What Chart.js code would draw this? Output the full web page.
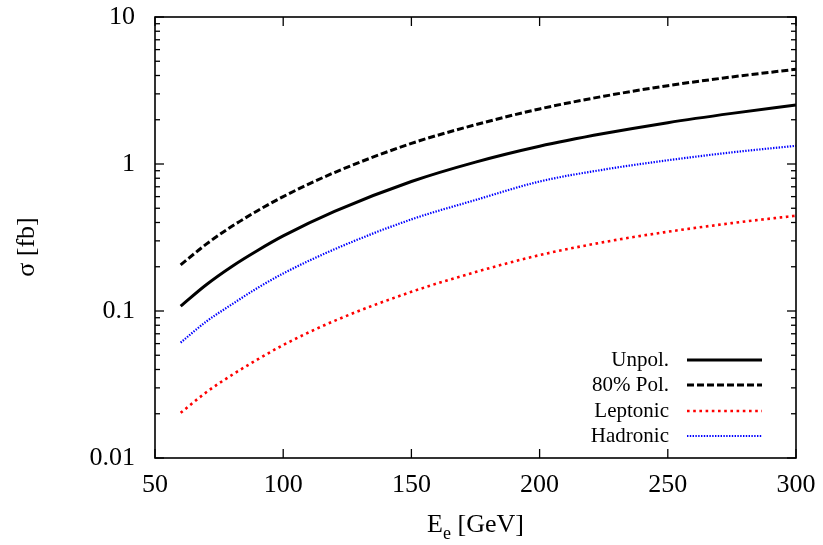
<!DOCTYPE html>
<html>
<head>
<meta charset="utf-8">
<script src="https://cdn.jsdelivr.net/npm/chart.js@4/dist/chart.umd.min.js"></script>
<style>
  html, body { margin: 0; padding: 0; background: #fff; }
</style>
</head>
<body>
<canvas id="xsec" width="823" height="545"></canvas>
<script>
// ─── Data ────────────────────────────────────────────────────────────────────
const energies  = [60, 70, 80, 90, 100, 120, 150, 175, 200, 225, 250, 275, 300];
const unpol     = [0.108, 0.151, 0.201, 0.258, 0.324, 0.476, 0.76, 1.03, 1.32, 1.61, 1.91, 2.21, 2.52];
const pol80     = [0.206, 0.285, 0.377, 0.481, 0.600, 0.875, 1.38, 1.85, 2.37, 2.89, 3.41, 3.91, 4.41];
const leptonic  = [0.0203, 0.028, 0.0367, 0.0468, 0.0587, 0.0857, 0.135, 0.184, 0.24, 0.294, 0.346, 0.396, 0.445];
const hadronic  = [0.061, 0.0848, 0.111, 0.1435, 0.180, 0.263, 0.42, 0.569, 0.76, 0.916, 1.06, 1.20, 1.33];

const xTicks      = [50, 100, 150, 200, 250, 300];
const yTicks      = [0.01, 0.1, 1, 10];
const yTickLabels = ['0.01', '0.1', '1', '10'];

const SERIF = '"Liberation Serif", "DejaVu Serif", serif';
// target plot box inside the 823x545 canvas
const AREA = { left: 155, right: 796, top: 17, bottom: 458 };

const toPoints = (ys) => ys.map((v, i) => ({ x: energies[i], y: v }));

// ─── Frame, inward ticks and log minor ticks (gnuplot look) ───────────────────
const framePlugin = {
    id: 'frame',
    afterDraw(chart) {
        const { ctx, chartArea: a, scales: { x, y } } = chart;
        ctx.save();
        ctx.strokeStyle = '#000';
        ctx.lineWidth = 1.3;
        const seg = (x1, y1, x2, y2) => {
            ctx.beginPath(); ctx.moveTo(x1, y1); ctx.lineTo(x2, y2); ctx.stroke();
        };
        xTicks.forEach(v => {
            const px = x.getPixelForValue(v);
            seg(px, a.bottom, px, a.bottom - 9);
            seg(px, a.top, px, a.top + 9);
        });
        for (let d = 0; d < yTicks.length; d++) {
            const base = yTicks[d];
            const py = y.getPixelForValue(base);
            seg(a.left, py, a.left + 9, py);
            seg(a.right, py, a.right - 9, py);
            if (d === yTicks.length - 1) break;
            for (let k = 2; k <= 9; k++) {
                const pm = y.getPixelForValue(base * k);
                seg(a.left, pm, a.left + 5, pm);
                seg(a.right, pm, a.right - 5, pm);
            }
        }
        ctx.lineWidth = 1.6;
        ctx.strokeRect(a.left, a.top, a.width, a.height);

        // axis titles
        ctx.fillStyle = '#000';
        ctx.font = `26px ${SERIF}`;
        ctx.textBaseline = 'alphabetic';
        ctx.save();
        ctx.translate(34, 247);
        ctx.rotate(-Math.PI / 2);
        ctx.textAlign = 'center';
        ctx.fillText('σ [fb]', 0, 0);
        ctx.restore();

        const cx = (a.left + a.right) / 2;
        const base = 532;
        ctx.textAlign = 'left';
        const wE = ctx.measureText('E').width;
        ctx.font = `18px ${SERIF}`;
        const we = ctx.measureText('e').width;
        ctx.font = `26px ${SERIF}`;
        const rest = ' [GeV]';
        const wR = ctx.measureText(rest).width;
        const sx = cx - (wE + we + wR) / 2;
        ctx.fillText('E', sx, base);
        ctx.font = `18px ${SERIF}`;
        ctx.fillText('e', sx + wE, base + 7);
        ctx.font = `26px ${SERIF}`;
        ctx.fillText(rest, sx + wE + we, base);
        ctx.restore();
    }
};

// ─── Legend with text left of the line sample ────────────────────────────────
const legendPlugin = {
    id: 'sideLegend',
    afterDatasetsDraw(chart) {
        const { ctx } = chart;
        const rows = [360, 385, 411, 436];
        ctx.save();
        ctx.font = `21px ${SERIF}`;
        ctx.textAlign = 'right';
        ctx.textBaseline = 'middle';
        chart.data.datasets.forEach((ds, i) => {
            const yy = rows[i];
            ctx.fillStyle = '#000';
            ctx.fillText(ds.label, 669, yy);
            ctx.strokeStyle = ds.borderColor;
            ctx.lineWidth = ds.borderWidth;
            ctx.setLineDash(ds.borderDash || []);
            ctx.beginPath();
            ctx.moveTo(687, yy);
            ctx.lineTo(762, yy);
            ctx.stroke();
        });
        ctx.restore();
    }
};

const ctx = document.getElementById('xsec').getContext('2d');
new Chart(ctx, {
    type: 'line',
    data: {
        datasets: [
            { label: 'Unpol.',    data: toPoints(unpol),    borderColor: '#000000', borderWidth: 3,   borderDash: [] },
            { label: '80% Pol.',  data: toPoints(pol80),    borderColor: '#000000', borderWidth: 3,   borderDash: [7, 3] },
            { label: 'Leptonic',  data: toPoints(leptonic), borderColor: '#ff0000', borderWidth: 2.6, borderDash: [2.6, 3.6] },
            { label: 'Hadronic',  data: toPoints(hadronic), borderColor: '#0000ff', borderWidth: 2.2, borderDash: [1.4, 1.4] }
        ]
    },
    options: {
        responsive: false,
        animation: false,
        devicePixelRatio: 1,
        layout: {
            autoPadding: false,
            padding: { left: 0, right: 823 - AREA.right, top: AREA.top, bottom: 0 }
        },
        elements: {
            point: { radius: 0 },
            line: { tension: 0.4, cubicInterpolationMode: 'monotone', fill: false }
        },
        plugins: { legend: { display: false }, tooltip: { enabled: false } },
        scales: {
            x: {
                type: 'linear',
                min: 50, max: 300,
                afterBuildTicks: (s) => { s.ticks = xTicks.map(v => ({ value: v })); },
                afterFit: (s) => {
                    s.height = 545 - AREA.bottom;
                    s.paddingLeft = 0; s.paddingRight = 0;
                },
                grid: { display: false, drawTicks: false },
                border: { display: false },
                ticks: { color: '#000', padding: 12, maxRotation: 0, font: { family: SERIF, size: 26 } }
            },
            y: {
                type: 'logarithmic',
                min: 0.01, max: 10,
                afterBuildTicks: (s) => { s.ticks = yTicks.map(v => ({ value: v })); },
                afterFit: (s) => {
                    s.width = AREA.left;
                    s.paddingTop = 0; s.paddingBottom = 0;
                },
                grid: { display: false, drawTicks: false },
                border: { display: false },
                ticks: {
                    color: '#000', padding: 20,
                    font: { family: SERIF, size: 26 },
                    callback: (v) => yTickLabels[yTicks.indexOf(v)] ?? ''
                }
            }
        }
    },
    plugins: [framePlugin, legendPlugin]
});
</script>
</body>
</html>
